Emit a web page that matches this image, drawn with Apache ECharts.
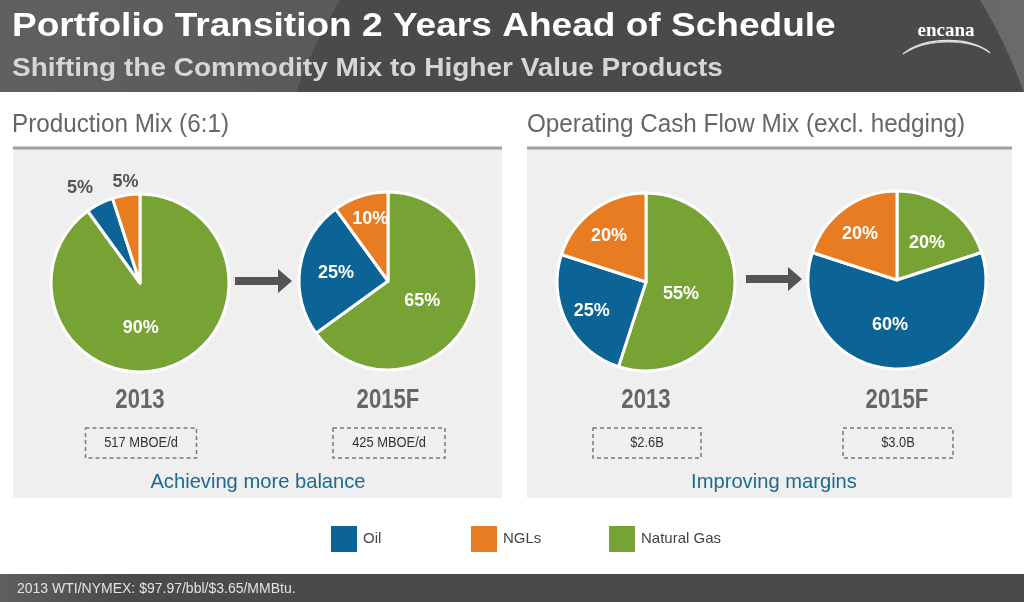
<!DOCTYPE html>
<html><head><meta charset="utf-8">
<script src="https://cdn.jsdelivr.net/npm/echarts@6/dist/echarts.min.js"></script>
<style>html,body{margin:0;padding:0;background:#fff}#c{width:1024px;height:602px}</style>
</head><body><div id="c"></div>
<script>
// ---- data ----
const categories = ['Natural Gas', 'Oil', 'NGLs'];      // slice order clockwise from 12 o'clock
const production2013 = [90, 5, 5];
const production2015F = [65, 25, 10];
const cashFlow2013 = [55, 25, 20];
const cashFlow2015F = [20, 60, 20];
const legendItems = ['Oil', 'NGLs', 'Natural Gas'];
const yearLabels = ['2013', '2015F', '2013', '2015F'];
const boxLabels = ['517 MBOE/d', '425 MBOE/d', '$2.6B', '$3.0B'];

const colorMap = { 'Oil': '#0b6396', 'NGLs': '#e77c22', 'Natural Gas': '#76a334' };
const FONT = '"Liberation Sans", Arial, sans-serif';

const chart = echarts.init(document.getElementById('c'), null, { renderer: 'canvas' });

const pieCenters = [[140, 283], [388, 281], [646, 282], [897, 280]];
const pieData = [production2013, production2015F, cashFlow2013, cashFlow2015F];
// label nudges (dx, dy) per series, per data index
const nudges = [
  [[-14, 0], [13, -23], [18, -9]],
  [[-8, -2], [-5, -1], [-3, -17]],
  [[-12, 5], [-12, 7], [-9, -8]],
  [[2, 1], [-7, -2], [-9, -8]]
];

const series = pieData.map((vals, si) => ({
  type: 'pie',
  center: pieCenters[si],
  radius: 89,
  startAngle: 90,
  clockwise: true,
  animation: false,
  silent: true,
  itemStyle: { borderColor: '#fff', borderWidth: 3 },
  data: categories.map((name, i) => {
    const small = vals[i] <= 5;
    return {
      name: name,
      value: vals[i],
      itemStyle: { color: colorMap[name] },
      label: small ? {
        position: 'outside', color: '#555', fontSize: 18, fontWeight: 'bold', fontFamily: FONT
      } : {
        position: 'inside', color: '#fff', fontSize: 18, fontWeight: 'bold', fontFamily: FONT
      },
      labelLine: { show: false, length: 4, length2: 0 }
    };
  }),
  label: { formatter: '{c}%' },
  labelLayout: function (p) {
    const n = nudges[si][p.dataIndex];
    return { dx: n[0], dy: n[1] };
  }
}));

function txt(text, x, y, font, fill, align, sx) {
  return { type: 'text', silent: true, x: x, y: y, scaleX: sx || 1,
    style: { text: text, x: 0, y: 0, font: font, fill: fill,
      align: align || 'left', textAlign: align || 'left', verticalAlign: 'middle', textVerticalAlign: 'middle' } };
}

function arrow(x0, x1, y) {
  return { type: 'polygon', silent: true, shape: { points: [
    [x0, y - 4], [x1 - 14, y - 4], [x1 - 14, y - 12], [x1, y], [x1 - 14, y + 12], [x1 - 14, y + 4], [x0, y + 4]
  ] }, style: { fill: '#555' } };
}

const graphics = [
  // header
  { type: 'rect', silent: true, shape: { x: 0, y: 0, width: 1024, height: 92 },
    style: { fill: new echarts.graphic.LinearGradient(0, 0, 1, 0, [
      { offset: 0, color: '#605f62' }, { offset: 0.3, color: '#5a595c' }, { offset: 1, color: '#6a696c' }]) } },
  { type: 'ellipse', silent: true, shape: { cx: 660, cy: 300, rx: 400, ry: 500 }, style: { fill: '#4a494c' } },
  { type: 'rect', silent: true, shape: { x: 0, y: 92, width: 1024, height: 482 }, style: { fill: '#fff' } },
  txt('Portfolio Transition 2 Years Ahead of Schedule', 12, 27, 'bold 34px ' + FONT, '#fff', 'left', 1.09),
  txt('Shifting the Commodity Mix to Higher Value Products', 12, 69, 'bold 25px ' + FONT, '#d6d6d6', 'left', 1.12),
  txt('encana', 946, 31, 'bold 19px "Liberation Serif", "DejaVu Serif", serif', '#fff', 'center'),
  { type: 'bezierCurve', silent: true, shape: { x1: 903, y1: 54, x2: 990, y2: 53, cpx1: 925, cpy1: 36, cpx2: 970, cpy2: 36 }, style: { stroke: '#e8e8e8', lineWidth: 1.4, fill: 'none' } },
  { type: 'bezierCurve', silent: true, shape: { x1: 906, y1: 52, x2: 988, y2: 51, cpx1: 928, cpy1: 38, cpx2: 968, cpy2: 38 }, style: { stroke: '#dcdcdc', lineWidth: 1.1, fill: 'none' } },
  { type: 'bezierCurve', silent: true, shape: { x1: 910, y1: 50, x2: 985, y2: 49, cpx1: 931, cpy1: 39, cpx2: 966, cpy2: 40 }, style: { stroke: '#d0d0d0', lineWidth: 0.9, fill: 'none' } },

  // section titles + rules
  txt('Production Mix (6:1)', 12, 125, '25px ' + FONT, '#666', 'left', 0.97),
  txt('Operating Cash Flow Mix (excl. hedging)', 527, 125, '25px ' + FONT, '#666', 'left', 0.97),
  { type: 'rect', silent: true, shape: { x: 13, y: 147, width: 489, height: 351 }, style: { fill: '#efefef' } },
  { type: 'rect', silent: true, shape: { x: 527, y: 147, width: 485, height: 351 }, style: { fill: '#efefef' } },
  { type: 'line', silent: true, shape: { x1: 13, y1: 148, x2: 502, y2: 148 }, style: { stroke: '#a0a0a0', lineWidth: 3 } },
  { type: 'line', silent: true, shape: { x1: 527, y1: 148, x2: 1012, y2: 148 }, style: { stroke: '#a0a0a0', lineWidth: 3 } },

  arrow(235, 292, 281),
  arrow(746, 802, 279),

  // taglines
  txt('Achieving more balance', 258, 482, '21px ' + FONT, '#1c6a8e', 'center', 0.96),
  txt('Improving margins', 774, 482, '21px ' + FONT, '#1c6a8e', 'center', 0.96),

  // footer
  { type: 'rect', silent: true, shape: { x: 0, y: 574, width: 1024, height: 28 },
    style: { fill: new echarts.graphic.LinearGradient(0, 0, 1, 0, [
      { offset: 0, color: '#5f5e61' }, { offset: 0.12, color: '#4a494c' }, { offset: 1, color: '#4a494c' }]) } },
  txt('2013 WTI/NYMEX: $97.97/bbl/$3.65/MMBtu.', 17, 589, '14px ' + FONT, '#e2e2e2')
];

const boxWidths = [111, 112, 108, 110];
pieCenters.forEach((c, i) => {
  graphics.push(txt(yearLabels[i], c[0], 401, 'bold 27px ' + FONT, '#666', 'center', 0.82));
  const w = boxWidths[i];
  graphics.push({ type: 'rect', silent: true, shape: { x: c[0] - w / 2 + 1, y: 428, width: w, height: 30 },
    style: { fill: 'none', stroke: '#7a7a7a', lineWidth: 1.5, lineDash: [4, 3] } });
  graphics.push(txt(boxLabels[i], c[0] + 1, 443, '14px ' + FONT, '#333', 'center', 0.92));
});

const legendLefts = [329, 469, 607];
const legends = legendItems.map((name, i) => ({
  data: [name], left: legendLefts[i], top: 524, padding: 0, icon: 'rect', itemWidth: 28, itemHeight: 28,
  selectedMode: false,
  textStyle: { color: '#444', fontSize: 15, fontFamily: FONT }
}));

chart.setOption({
  animation: false,
  color: legendItems.map(n => colorMap[n]),
  legend: legends,
  graphic: { elements: graphics },
  series: series
});
</script>
</body></html>
